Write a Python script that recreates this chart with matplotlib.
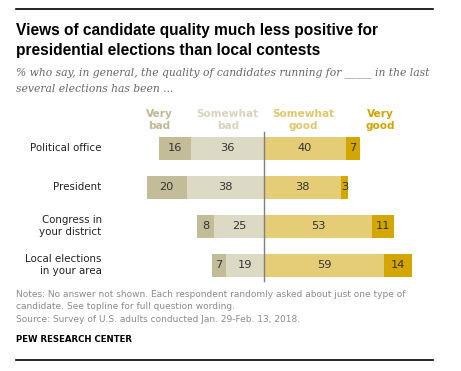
import matplotlib
matplotlib.use("Agg")
import matplotlib.pyplot as plt
import numpy as np

categories = ["Political office", "President", "Congress in\nyour district", "Local elections\nin your area"]
very_bad = [16, 20, 8, 7]
somewhat_bad = [36, 38, 25, 19]
somewhat_good = [40, 38, 53, 59]
very_good = [7, 3, 11, 14]
headers = ["Very\nbad", "Somewhat\nbad", "Somewhat\ngood", "Very\ngood"]

colors = ["#c2bc98", "#dcd9c4", "#e5cd78", "#d4a600"]
header_colors = ["#bfb895", "#d8d4bd", "#e0c66c", "#d2a300"]

W, H = 461, 371
fig = plt.figure(figsize=(W / 100, H / 100), dpi=100)

def fx(x):
    return x / W

def fy(y):
    return 1 - y / H

SANS = ["DejaVu Sans"]

# axes geometry: value 0 at x=264.3px, 2.03 px per unit
x0px, scale = 264.3, 2.03
ax_l, ax_r = 130, 440
ax_t, ax_b = 128, 290
row0, spacing = 148.3, 39.0
ax = fig.add_axes([fx(ax_l), fy(ax_b), (ax_r - ax_l) / W, (ax_b - ax_t) / H])
ax.set_xlim((ax_l - x0px) / scale, (ax_r - x0px) / scale)
ax.set_ylim((ax_b - row0) / spacing, (ax_t - row0) / spacing)
ax.axis("off")

y = np.arange(len(categories))
vb = np.array(very_bad)
sb = np.array(somewhat_bad)
sg = np.array(somewhat_good)
vg = np.array(very_good)
h = 23 / spacing

segs = [(-(vb + sb), vb), (-sb, sb), (np.zeros_like(sg), sg), (sg, vg)]
for (left, width), c in zip(segs, colors):
    ax.barh(y, width, left=left, height=h, color=c, edgecolor="none")
    for yi, l, w in zip(y, left, width):
        ax.text(l + w / 2, yi, f"{w}", ha="center", va="center", fontsize=8.2,
                color="#333333", family=SANS)

ax.plot([0, 0], [(132.3 - row0) / spacing, (280.5 - row0) / spacing], color="#7f7f7f", lw=1.0)

# category labels
for yi, cat in zip(y, categories):
    ax.text((101.7 - x0px) / scale, yi, cat, ha="right", va="center", fontsize=7.4,
            color="#222222", family=SANS, linespacing=1.3)

# headers
hx = [159, 227.7, 303, 380.7]
for xh, t, c in zip(hx, headers, header_colors):
    fig.text(fx(xh), fy(120), t, ha="center", va="center", fontsize=7.6, fontweight="bold",
             color=c, family=SANS, linespacing=1.15)

# rules
fig.add_artist(plt.Line2D([fx(16), fx(433)], [fy(9.3), fy(9.3)], color="black", lw=1.2))
fig.add_artist(plt.Line2D([fx(16), fx(433)], [fy(360), fy(360)], color="black", lw=1.2))

# title
fig.text(fx(16), fy(30), "Views of candidate quality much less positive for", ha="left",
         va="center", fontsize=11.2, fontweight="bold", color="black", family=["Liberation Sans"])
fig.text(fx(16), fy(50), "presidential elections than local contests", ha="left",
         va="center", fontsize=11.2, fontweight="bold", color="black", family=["Liberation Sans"])

# subtitle
fig.text(fx(16), fy(73), "% who say, in general, the quality of candidates running for _____ in the last",
         ha="left", va="center", fontsize=7.75, style="italic", color="#666666", family=["DejaVu Serif"])
fig.text(fx(16), fy(89), "several elections has been ...",
         ha="left", va="center", fontsize=7.75, style="italic", color="#666666", family=["DejaVu Serif"])

# notes
notes = ["Notes: No answer not shown. Each respondent randomly asked about just one type of",
         "candidate. See topline for full question wording.",
         "Source: Survey of U.S. adults conducted Jan. 29-Feb. 13, 2018."]
for yy, t in zip([294.3, 306.7, 320], notes):
    fig.text(fx(16), fy(yy), t, ha="left", va="center", fontsize=6.45, color="#8a8a8a", family=SANS)

fig.text(fx(16), fy(339.3), "PEW RESEARCH CENTER", ha="left", va="center", fontsize=6.2,
         fontweight="bold", color="black", family=SANS)

fig.savefig("out.png", dpi=100)
